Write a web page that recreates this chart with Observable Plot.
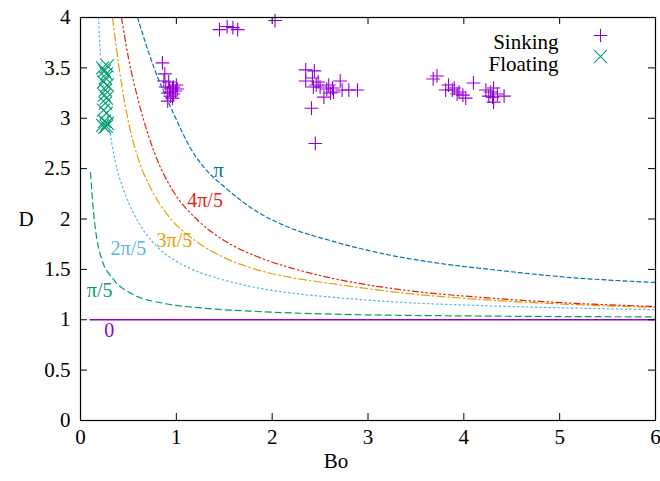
<!DOCTYPE html>
<html><head><meta charset="utf-8">
<script src="https://cdn.jsdelivr.net/npm/d3@7"></script>
<script src="https://cdn.jsdelivr.net/npm/@observablehq/plot@0.6"></script>
<style>
body{margin:0;background:#fff}
svg, svg text, svg g { font-family: "Liberation Serif", "DejaVu Serif", serif !important; }
</style>
</head><body><div id="chart"></div>
<script>
// ---- data ----
const xTicks = [0, 1, 2, 3, 4, 5, 6];
const yTicks = [0, 0.5, 1, 1.5, 2, 2.5, 3, 3.5, 4];
const yTickLabels = ["0", "0.5", "1", "1.5", "2", "2.5", "3", "3.5", "4"];

const curve0 = [[0.1, 1], [6, 1]];
const curvePi5 = [[0.104,2.46],[0.136,2.07],[0.209,1.64],[0.344,1.40],[0.522,1.265],[0.866,1.163],[1.253,1.118],[1.848,1.082],[2.537,1.058],[4.28,1.036],[6.0,1.029]];
const curve2Pi5 = [[0.188,4.0],[0.198,3.80],[0.282,3.04],[0.365,2.56],[0.45,2.29],[0.553,2.06],[0.67,1.87],[0.804,1.72],[1.044,1.556],[1.148,1.507],[1.493,1.395],[1.848,1.316],[2.192,1.266],[2.61,1.225],[3.372,1.172],[4.28,1.138],[6.0,1.100]];
const curve3Pi5 = [[0.334,4.0],[0.40,3.52],[0.449,3.22],[0.52,2.88],[0.616,2.56],[0.731,2.31],[0.908,2.04],[1.148,1.82],[1.25,1.75],[1.493,1.62],[1.848,1.495],[2.192,1.42],[2.61,1.36],[3.372,1.265],[4.28,1.195],[5.115,1.152],[6.0,1.122]];
const curve4Pi5 = [[0.428,4.0],[0.50,3.6],[0.605,3.17],[0.804,2.58],[0.971,2.27],[1.221,1.99],[1.493,1.79],[1.848,1.625],[2.192,1.515],[2.61,1.415],[3.372,1.295],[4.28,1.215],[5.115,1.165],[6.0,1.132]];
const curvePi = [[0.595,4.0],[0.76,3.52],[0.97,3.05],[1.15,2.70],[1.30,2.50],[1.5,2.32],[1.848,2.07],[2.192,1.91],[2.61,1.785],[3.10,1.667],[3.685,1.568],[4.28,1.499],[5.115,1.419],[6.0,1.37]];

const curveLabels = ["0", "π/5", "2π/5", "3π/5", "4π/5", "π"];
const curveLabelBo = [0.30, 0.20, 0.50, 0.98, 1.30, 1.44];
const curveLabelD  = [0.89, 1.29, 1.71, 1.79, 2.18, 2.48];

const sinking = [
  [0.855,3.55],[0.88,3.44],[0.87,3.37],[0.92,3.36],[0.89,3.31],[0.97,3.31],[0.96,3.30],[1.01,3.29],[0.99,3.27],[0.94,3.26],[0.91,3.25],[0.97,3.24],[0.94,3.22],[0.96,3.20],[0.91,3.17],[1.0,3.33],[0.93,3.29],
  [1.45,3.88],[1.53,3.91],[1.59,3.90],[1.64,3.88],[2.03,3.97],
  [2.35,3.48],[2.44,3.47],[2.35,3.37],[2.42,3.40],[2.46,3.33],[2.50,3.31],[2.43,3.31],[2.54,3.21],[2.59,3.33],[2.63,3.30],[2.64,3.26],[2.71,3.37],[2.73,3.28],[2.80,3.28],[2.89,3.28],[2.61,3.25],[2.41,3.10],[2.45,2.75],[2.48,3.36],[2.57,3.29],
  [3.68,3.39],[3.72,3.42],[3.84,3.33],[3.81,3.28],[3.88,3.28],[3.93,3.24],[3.95,3.26],[3.99,3.23],[4.02,3.20],[4.10,3.35],[4.23,3.28],[4.28,3.26],[4.31,3.30],[4.26,3.22],[4.31,3.16],[4.42,3.22],[4.35,3.24],[3.90,3.30],[4.30,3.21]
];
const floating = [
  [0.23,3.50],[0.28,3.52],[0.25,3.47],[0.27,3.44],[0.26,3.40],[0.24,3.36],[0.28,3.33],[0.26,3.28],[0.25,3.23],[0.27,3.20],[0.26,3.15],[0.24,3.08],[0.27,3.05],[0.25,2.97],[0.23,2.93],[0.27,2.92],[0.25,2.91],[0.28,2.95]
];
const legendLabels = ["Sinking", "Floating"];

// ---- styles ----
const FONT = "Liberation Serif";
const C = {purple:"#9400d3", green:"#009e73", lblue:"#56b4e9", orange:"#e69f00", red:"#e51e10", blue:"#0072b2"};
const curveColors = [C.purple, C.green, C.lblue, C.orange, C.red, C.blue];
const W = 660, H = 481, mL = 80, mR = 5, mT = 17, mB = 61;
const pw = W - mL - mR, ph = H - mT - mB, tick = 7;

const lineOpts = (stroke, dash, sw = 1.2) => ({x: d => d[0], y: d => d[1], stroke, strokeWidth: sw, strokeDasharray: dash, curve: "monotone-x", clip: true});
const txt = {fontFamily: FONT, fontSize: 21};

const chart = Plot.plot({
  width: W, height: H,
  marginLeft: mL, marginRight: mR, marginTop: mT, marginBottom: mB,
  style: {fontFamily: FONT, fontSize: "21px", background: "white", color: "black"},
  x: {domain: [0, 6], label: null},
  y: {domain: [0, 4], label: null},
  marks: [
    Plot.line(curve0, lineOpts(C.purple, null, 1.5)),
    Plot.line(curvePi5, lineOpts(C.green, "6,4")),
    Plot.line(curve2Pi5, lineOpts(C.lblue, "1.5,3")),
    Plot.line(curve3Pi5, lineOpts(C.orange, "8,3,1.5,3")),
    Plot.line(curve4Pi5, lineOpts(C.red, "6,3,1.5,3,1.5,3")),
    Plot.line(curvePi, lineOpts(C.blue, "4,3")),
    Plot.text(curveLabels, {x: (d, i) => curveLabelBo[i], y: (d, i) => curveLabelD[i], text: d => d, fill: (d, i) => curveColors[i], ...txt, fontSize: 20}),
    Plot.dot(sinking, {x: d => d[0], y: d => d[1], symbol: "plus", r: 4.5, stroke: C.purple, strokeWidth: 1.1}),
    Plot.dot(floating, {x: d => d[0], y: d => d[1], symbol: "times", r: 6, stroke: C.green, strokeWidth: 1.1}),
    // inward ticks on all four sides
    Plot.tickX(xTicks, {x: d => d, insetTop: ph - tick, stroke: "black"}),
    Plot.tickX(xTicks, {x: d => d, insetBottom: ph - tick, stroke: "black"}),
    Plot.tickY(yTicks, {y: d => d, insetRight: pw - tick, stroke: "black"}),
    Plot.tickY(yTicks, {y: d => d, insetLeft: pw - tick, stroke: "black"}),
    Plot.frame({stroke: "black", strokeWidth: 1.2}),
    Plot.axisX(xTicks, {tickSize: 0, tickPadding: 9, tickFormat: d => String(d), ...txt}),
    Plot.axisY(yTicks, {tickSize: 0, tickPadding: 10, tickFormat: d => yTickLabels[yTicks.indexOf(d)], ...txt}),
    Plot.text(["Bo"], {x: null, y: null, text: d => d, frameAnchor: "bottom", dx: -32, dy: 47, ...txt}),
    Plot.text(["D"], {x: null, y: null, text: d => d, frameAnchor: "left", dx: -62, ...txt}),
    // legend
    Plot.text([legendLabels[0]], {x: null, y: null, text: d => d, frameAnchor: "top-right", textAnchor: "end", dx: -97, dy: 17, ...txt}),
    Plot.text([legendLabels[1]], {x: null, y: null, text: d => d, frameAnchor: "top-right", textAnchor: "end", dx: -97, dy: 39, ...txt}),
    Plot.dot([legendLabels[0]], {x: null, y: null, frameAnchor: "top-right", dx: -55, dy: 18, symbol: "plus", r: 4.5, stroke: C.purple, strokeWidth: 1.1}),
    Plot.dot([legendLabels[1]], {x: null, y: null, frameAnchor: "top-right", dx: -55, dy: 39, symbol: "times", r: 6, stroke: C.green, strokeWidth: 1.1})
  ]
});
document.getElementById("chart").appendChild(chart);
</script>
</body></html>
